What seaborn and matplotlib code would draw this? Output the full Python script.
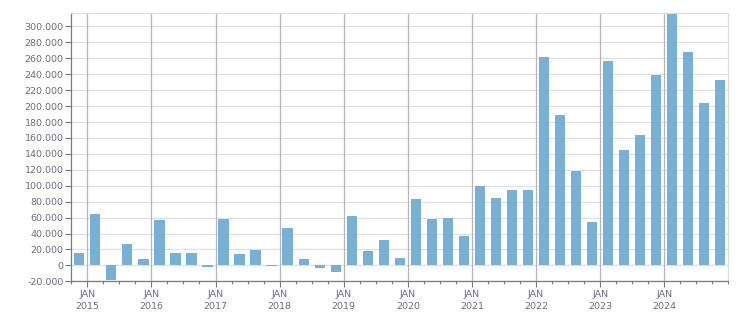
import matplotlib
matplotlib.use("Agg")
import matplotlib.pyplot as plt
import seaborn as sns
import pandas as pd
import numpy as np

# Quarterly values (thousands), Q4 2014 .. Q4 2024
quarters = ["Q4 2014"] + [f"Q{q} {y}" for y in range(2015, 2025) for q in range(1, 5)]
values = [15.5, 64.4, -18.4, 26.8,
          7.9, 56.9, 15.5, 15.5,
          -2.1, 58.2, 14.2, 19.2,
          -0.8, 46.9, 7.9, -3.3,
          -8.4, 61.9, 18.0, 31.8,
          9.2, 83.3, 58.2, 59.0,
          36.8, 99.6, 84.5, 94.6,
          94.6, 261.5, 188.7, 118.4,
          54.4, 256.5, 144.8, 163.6,
          238.9, 315.5, 267.8, 203.8,
          232.6]
year_labels = ["JAN\n2015", "JAN\n2016", "JAN\n2017", "JAN\n2018", "JAN\n2019",
               "JAN\n2020", "JAN\n2021", "JAN\n2022", "JAN\n2023", "JAN\n2024"]
y_ticks = list(range(-20, 301, 20))

df = pd.DataFrame({"quarter": quarters, "value": values})

sns.set_theme(style="white")
plt.rcParams["font.family"] = ["DejaVu Sans"]

fig = plt.figure(figsize=(7.51, 3.13), dpi=100)
ax = fig.add_axes([0.0949, 0.1013, 0.9698 - 0.0949, 0.9575 - 0.1013])

sns.barplot(data=df, x="quarter", y="value", color="#78b0d4", saturation=1,
            width=0.64, ax=ax, zorder=3, edgecolor="none", linewidth=0)

ax.set_xlim(-0.5, 40.5)
ax.set_ylim(-20, 316.5)
ax.set_xlabel("")
ax.set_ylabel("")

text_color = "#6b6b7d"
ax.set_yticks(y_ticks)
ax.set_yticklabels([("{:,}".format(v * 1000)).replace(",", ".") if v != 0 else "0" for v in y_ticks],
                   fontsize=6.8, color=text_color)

major_pos = [0.5 + 4 * k for k in range(len(year_labels))]
ax.set_xticks(major_pos)
ax.set_xticklabels(year_labels, fontsize=6.8, color=text_color, linespacing=1.45)
ax.set_xticks(np.arange(-0.5, 40.6, 1.0), minor=True)

ax.tick_params(axis="y", which="major", direction="out", length=4.5, width=0.8,
               color="#7a7a7a", pad=1, left=True)
ax.tick_params(axis="x", which="major", direction="out", length=4, width=0.8,
               color="#7a7a7a", pad=2, bottom=True)
ax.tick_params(axis="x", which="minor", direction="out", length=2.5, width=0.8,
               color="#7a7a7a", bottom=True)

ax.set_axisbelow(True)
ax.grid(False)
for v in y_ticks:
    ax.axhline(v, color="#e0e0e0", lw=0.9, zorder=0)
for p in major_pos:
    ax.axvline(p, color="#b5b5b5", lw=0.9, zorder=1)

for s in ["top", "right"]:
    ax.spines[s].set_color("#dcdcdc")
    ax.spines[s].set_linewidth(0.9)
for s in ["left", "bottom"]:
    ax.spines[s].set_color("#7a7a7a")
    ax.spines[s].set_linewidth(0.9)

fig.savefig("out.png", dpi=100)
